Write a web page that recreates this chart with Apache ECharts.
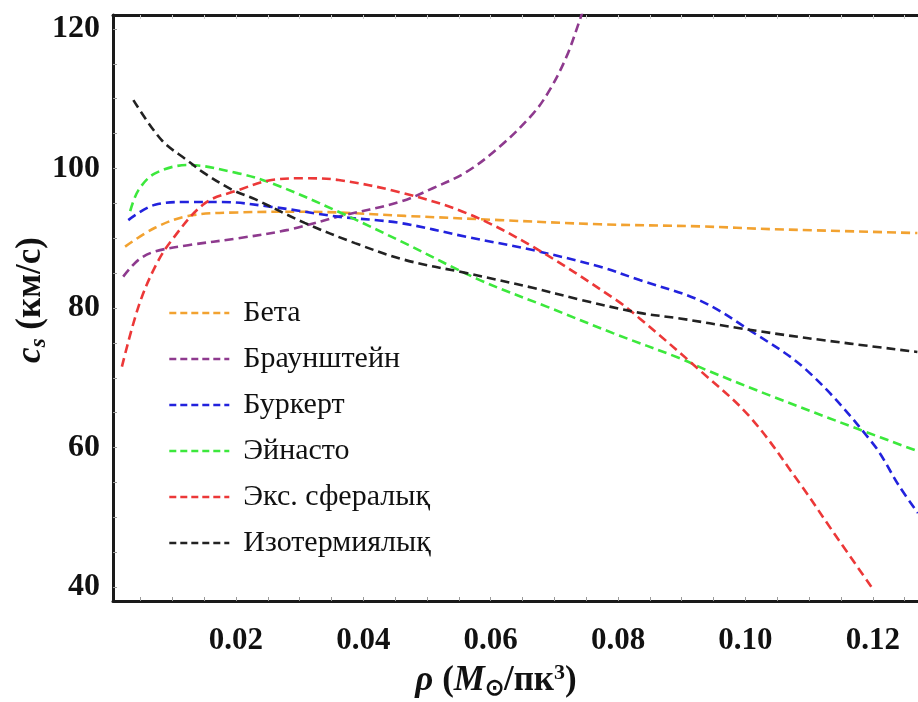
<!DOCTYPE html>
<html>
<head>
<meta charset="utf-8">
<script src="https://cdn.jsdelivr.net/npm/echarts@6.0.0/dist/echarts.min.js"></script>
<style>
  html, body { margin: 0; padding: 0; background: #fff; }
  #chartCs { width: 918px; height: 702px; }
</style>
</head>
<body>
<div id="chartCs"></div>
<script>
// ρ values (x) and c_s values (y), one pair of arrays per model
var betaX = [0.0026, 0.0073, 0.0125, 0.0203, 0.0308, 0.0466, 0.0614, 0.0771, 0.0928, 0.1043, 0.127];
var betaY = [88.8, 91.5, 93.2, 93.7, 93.8, 93.2, 92.6, 92.0, 91.7, 91.3, 90.75];

var braunX = [0.0023, 0.0047, 0.0073, 0.0125, 0.0204, 0.0282, 0.0361, 0.0457, 0.051, 0.0562, 0.0614, 0.0667, 0.0693, 0.0719, 0.074, 0.0748];
var braunY = [84.5, 86.9, 88.1, 89.0, 90.0, 91.2, 93.1, 95.2, 97.2, 99.5, 103.1, 107.9, 111.3, 116.0, 121.3, 123.5];

var burkX = [0.0031, 0.0073, 0.0125, 0.0178, 0.0256, 0.036, 0.0457, 0.0562, 0.0666, 0.0772, 0.0834, 0.0928, 0.1007, 0.1096, 0.12, 0.1242, 0.1271];
var burkY = [92.6, 94.8, 95.2, 95.2, 94.5, 93.1, 92.2, 90.2, 88.3, 85.9, 84.0, 81.1, 76.8, 71.1, 60.6, 54.4, 50.6];

var einX = [0.0034, 0.0047, 0.0073, 0.0125, 0.0204, 0.0256, 0.0361, 0.0465, 0.0583, 0.0688, 0.0792, 0.0897, 0.0939, 0.1043, 0.1174, 0.127];
var einY = [93.9, 96.9, 99.3, 100.5, 99.3, 97.9, 93.8, 89.3, 84.0, 80.2, 76.4, 72.8, 71.1, 67.3, 62.75, 59.5];

var expX = [0.0021, 0.0047, 0.0073, 0.0099, 0.0151, 0.0204, 0.0256, 0.0308, 0.0361, 0.0457, 0.0562, 0.0666, 0.0798, 0.0834, 0.0928, 0.1007, 0.1085, 0.1137, 0.1198];
var expY = [71.6, 80.2, 85.9, 89.7, 95.0, 96.9, 98.35, 98.6, 98.35, 96.6, 93.6, 88.8, 81.1, 78.5, 71.1, 64.4, 54.9, 48.0, 40.0];

var isoX = [0.0039, 0.0083, 0.0123, 0.0151, 0.0195, 0.023, 0.0308, 0.0387, 0.0465, 0.0562, 0.0666, 0.074, 0.0834, 0.0897, 0.0991, 0.1096, 0.127];
var isoY = [109.8, 104.1, 101.2, 99.3, 96.9, 95.6, 92.2, 89.3, 86.9, 85.0, 82.9, 81.2, 79.3, 78.5, 77.1, 75.7, 73.7];

var xTicks = [0.02, 0.04, 0.06, 0.08, 0.10, 0.12];
var xMinor = [0.005, 0.01, 0.015, 0.02, 0.025, 0.03, 0.035, 0.04, 0.045, 0.05, 0.055, 0.06, 0.065, 0.07, 0.075, 0.08, 0.085, 0.09, 0.095, 0.10, 0.105, 0.11, 0.115, 0.12, 0.125];
var yTicks = [40, 60, 80, 100, 120];
var yMinor = [40, 45, 50, 55, 60, 65, 70, 75, 80, 85, 90, 95, 100, 105, 110, 115, 120];

var names = ['Бета', 'Браунштейн', 'Буркерт', 'Эйнасто', 'Экс. сфералық', 'Изотермиялық'];
var colors = ['#f2a230', '#8e3a8e', '#2222dd', '#3ce83c', '#ec3838', '#222222'];

function pairs(xs, ys) {
  var out = [];
  for (var i = 0; i < xs.length; i++) out.push([xs[i], ys[i]]);
  return out;
}

var serif = "'Liberation Serif', 'Times New Roman', serif";
var dom = document.getElementById('chartCs');
var myChart = echarts.init(dom);

var allData = [pairs(betaX, betaY), pairs(braunX, braunY), pairs(burkX, burkY),
               pairs(einX, einY), pairs(expX, expY), pairs(isoX, isoY)];

var series = [];
allData.forEach(function (d, i) {
  series.push({
    name: names[i],
    type: 'line',
    data: d,
    smooth: 0.35,
    symbol: 'none',
    clip: true,
    color: colors[i],
    lineStyle: { color: colors[i], width: 2.6, type: [9, 5] }
  });
});

var option = {
  animation: false,
  backgroundColor: '#fff',
  grid: { left: 113, top: 15, right: 0, bottom: 101 },
  legend: {
    data: names,
    orient: 'vertical',
    left: 168,
    top: 290,
    padding: 0,
    itemWidth: 60,
    itemHeight: 14,
    itemGap: 0,
    itemStyle: { opacity: 0 },
    lineStyle: { width: 2.6, type: [7, 4] },
    textStyle: { fontFamily: serif, fontSize: 30, color: '#111', lineHeight: 34, padding: [0, 0, 12, 9] }
  },
  xAxis: [
    {
      type: 'value', min: 0.0007, max: 0.1271,
      axisLine: { show: true, lineStyle: { color: '#1a1a1a', width: 3 } },
      axisTick: { show: true, inside: true, length: 4, customValues: xMinor, lineStyle: { color: '#999', width: 1 } },
      axisLabel: {
        customValues: xTicks, margin: 24,
        fontFamily: serif, fontSize: 31, fontWeight: 'bold', color: '#111',
        formatter: function (v) { return v.toFixed(2); }
      },
      splitLine: { show: false }
    },
    {
      type: 'value', position: 'top', min: 0.0007, max: 0.1271,
      axisLine: { show: true, lineStyle: { color: '#1a1a1a', width: 3 } },
      axisTick: { show: true, inside: true, length: 4, customValues: xMinor, lineStyle: { color: '#ccc', width: 1 } },
      axisLabel: { show: false },
      splitLine: { show: false }
    }
  ],
  yAxis: [
    {
      type: 'value', min: 38, max: 122,
      axisLine: { show: true, lineStyle: { color: '#1a1a1a', width: 3 } },
      axisTick: { show: true, inside: true, length: 4, customValues: yMinor, lineStyle: { color: '#999', width: 1 } },
      axisLabel: {
        customValues: yTicks, margin: 13,
        fontFamily: serif, fontSize: 32, fontWeight: 'bold', color: '#111'
      },
      splitLine: { show: false }
    }
  ],
  graphic: [
    {
      type: 'text', x: 31, y: 300, rotation: Math.PI / 2,
      style: {
        text: '{c|c}{s|s} (км/с)',
        textAlign: 'center', textVerticalAlign: 'middle',
        font: 'bold 35px ' + serif, fill: '#111',
        rich: {
          c: { fontFamily: serif, fontSize: 35, fontStyle: 'italic', fontWeight: 'bold', fill: '#111' },
          s: { fontFamily: serif, fontSize: 23, fontStyle: 'italic', fontWeight: 'bold', fill: '#111', padding: [16, 0, 0, 0] }
        }
      }
    },
    {
      type: 'text', x: 496, y: 681,
      style: {
        text: '{i|ρ} ({i|M}{sub|⊙}/пк{sup|3})',
        textAlign: 'center', textVerticalAlign: 'middle',
        font: 'bold 35px ' + serif, fill: '#111',
        rich: {
          i: { fontFamily: serif, fontSize: 35, fontStyle: 'italic', fontWeight: 'bold', fill: '#111' },
          sub: { fontFamily: serif, fontSize: 23, fontWeight: 'bold', fill: '#111', padding: [16, 0, 0, 0] },
          sup: { fontFamily: serif, fontSize: 22, fontWeight: 'bold', fill: '#111', padding: [0, 0, 16, 0] }
        }
      }
    }
  ],
  series: series
};

if (option && typeof option === 'object') {
  myChart.setOption(option, true);
  window.addEventListener('resize', function () { myChart.resize(); });
}
</script>
</body>
</html>
